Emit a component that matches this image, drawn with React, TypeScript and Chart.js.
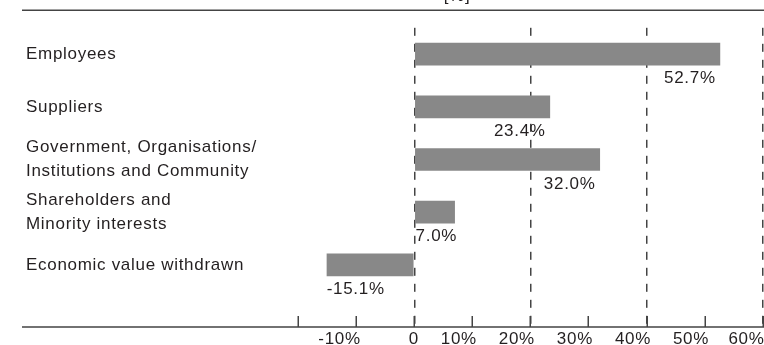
import { useEffect, useRef } from 'react';
import { Chart, registerables } from 'chart.js';

Chart.register(...registerables);

// Distribution of economic value, share of the total per stakeholder group
const CATEGORIES: (string | string[])[] = [
  'Employees',
  'Suppliers',
  ['Government, Organisations/', 'Institutions and Community'],
  ['Shareholders and', 'Minority interests'],
  'Economic value withdrawn',
];
const VALUES: number[] = [52.7, 23.4, 32.0, 7.0, -15.1];

const X_TICKS: number[] = [-20, -10, 0, 10, 20, 30, 40, 50, 60];
const X_TICK_LABELS: string[] = ['', '-10%', '0', '10%', '20%', '30%', '40%', '50%', '60%'];
const DASHED_AT: number[] = [0, 20, 40, 60];
const UNIT_LABEL = '[%]';

const FONT_FAMILY = '"Liberation Sans", Arial, Helvetica, sans-serif';
const FONT_SIZE = 17;
const FONT = `${FONT_SIZE}px ${FONT_FAMILY}`;
const INK = '#231f20';
const RULE = '#444444';
const BAR = '#888888';

const formatValue = (v: number) => `${v.toFixed(1)}%`;

// Frame rules, bottom axis ticks, axis labels and value labels
const decorPlugin = {
  id: 'decor',
  beforeDraw(chart: any) {
    chart.ctx.letterSpacing = '0.7px';
  },
  afterDatasetsDraw(chart: any) {
    const { ctx, chartArea } = chart;
    const xScale = chart.scales.x;
    const bottom = chartArea.bottom;
    ctx.save();

    ctx.strokeStyle = RULE;
    ctx.lineWidth = 1.5;
    ctx.beginPath();
    ctx.moveTo(22, 10.25);
    ctx.lineTo(chart.width, 10.25);
    ctx.moveTo(22, bottom);
    ctx.lineTo(chart.width, bottom);
    ctx.stroke();

    ctx.beginPath();
    X_TICKS.forEach((v) => {
      const px = Math.round(xScale.getPixelForValue(v)) + 0.25;
      ctx.moveTo(px, bottom - 11);
      ctx.lineTo(px, bottom);
    });
    ctx.stroke();

    ctx.font = FONT;
    ctx.fillStyle = INK;
    ctx.textBaseline = 'alphabetic';
    ctx.textAlign = 'right';
    X_TICKS.forEach((v, i) => {
      const label = X_TICK_LABELS[i];
      if (!label) return;
      const px = xScale.getPixelForValue(v);
      ctx.fillText(label, Math.min(px + 4.5, chart.width + 0.5), 343.5);
    });

    const meta = chart.getDatasetMeta(0);
    meta.data.forEach((bar: any, i: number) => {
      const { x: end, base, y, height } = bar.getProps(['x', 'base', 'y', 'height'], true);
      const text = formatValue(VALUES[i]);
      const baseline = y + height / 2 + 17.8;
      if (VALUES[i] < 0) {
        ctx.textAlign = 'left';
        ctx.fillText(text, end, baseline);
      } else {
        const w = ctx.measureText(text).width;
        const right = end - 4.5;
        if (right - w < base + 1) {
          ctx.textAlign = 'left';
          ctx.fillText(text, base + 0.5, baseline);
        } else {
          ctx.textAlign = 'right';
          ctx.fillText(text, right, baseline);
        }
      }
    });

    ctx.textAlign = 'center';
    ctx.fillText(UNIT_LABEL, 457, 0.6);

    ctx.restore();
  },
};

export default function App() {
  const canvasRef = useRef<HTMLCanvasElement | null>(null);

  useEffect(() => {
    const canvas = canvasRef.current;
    if (!canvas) return;

    const chart = new Chart(canvas, {
      type: 'bar',
      data: {
        datasets: [
          {
            data: VALUES.map((v, i) => ({ x: v, y: i })),
            backgroundColor: BAR,
            borderWidth: 0,
            categoryPercentage: 1,
            barPercentage: 0.431,
          },
        ],
      },
      options: {
        indexAxis: 'y',
        responsive: false,
        animation: false,
        layout: { padding: { left: 26, right: 1.4, top: 27.8, bottom: 0 } },
        plugins: {
          legend: { display: false },
          tooltip: { enabled: false },
        },
        scales: {
          x: {
            type: 'linear',
            position: 'bottom',
            min: -20,
            max: 60,
            afterBuildTicks: (s: any) => {
              s.ticks = X_TICKS.map((v) => ({ value: v }));
            },
            afterFit: (s: any) => {
              s.height = 18;
            },
            grid: {
              color: (c: any) =>
                c.tick && DASHED_AT.includes(c.tick.value) ? RULE : 'rgba(0,0,0,0)',
              lineWidth: 1.5,
              drawTicks: false,
            },
            border: { display: false, dash: [8, 8] },
            ticks: { display: false },
          },
          y: {
            type: 'linear',
            position: 'left',
            min: -0.5,
            max: 5.18,
            reverse: true,
            offset: false,
            bounds: 'data',
            afterBuildTicks: (s: any) => {
              s.ticks = CATEGORIES.map((_, i) => ({ value: i }));
            },
            afterFit: (s: any) => {
              s.width = 272.2;
            },
            grid: { display: false, drawTicks: false },
            border: { display: false },
            ticks: {
              autoSkip: false,
              crossAlign: 'far',
              padding: 0,
              color: INK,
              font: { family: FONT_FAMILY, size: FONT_SIZE, lineHeight: 1.42 },
              callback: (v: any) => CATEGORIES[v as number] ?? '',
            },
          },
        },
      } as any,
      plugins: [decorPlugin],
    });

    return () => chart.destroy();
  }, []);

  return (
    <div style={{ position: 'absolute', left: 0, top: 0, width: 764, height: 345 }}>
      <canvas ref={canvasRef} width={764} height={345} style={{ display: 'block' }} />
    </div>
  );
}
